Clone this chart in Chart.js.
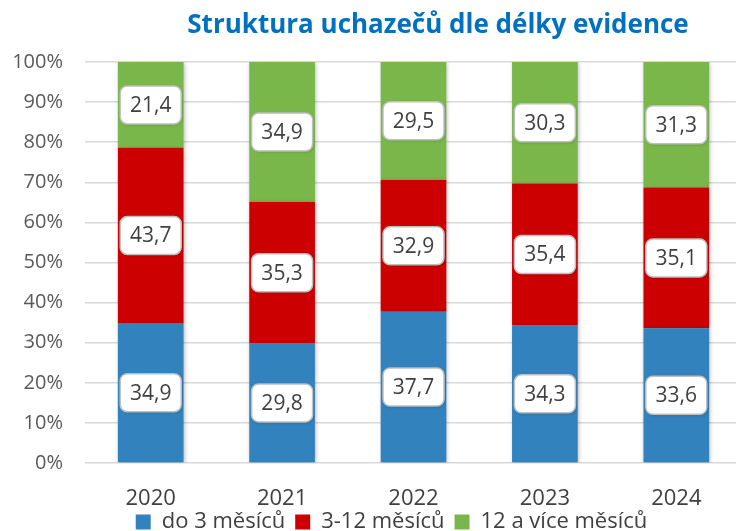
<!DOCTYPE html>
<html>
<head>
<meta charset="utf-8">
<script src="https://cdn.jsdelivr.net/npm/chart.js@4/dist/chart.umd.min.js"></script>
<style>
  body { margin: 0; overflow: hidden; background: #fff; }
  canvas { display: block; }
</style>
</head>
<body>
<canvas id="chart" width="742" height="551"></canvas>
<script>
const years = ['2020', '2021', '2022', '2023', '2024'];
const upTo3 = [34.9, 29.8, 37.7, 34.3, 33.6];
const from3to12 = [43.7, 35.3, 32.9, 35.4, 35.1];
const over12 = [21.4, 34.9, 29.5, 30.3, 31.3];
const seriesNames = ['do 3 měsíců', '3-12 měsíců', '12 a více měsíců'];
const title = 'Struktura uchazečů dle délky evidence';

const FONT = '"Open Sans", "DejaVu Sans", sans-serif';

// title drawn by hand so it sits where the original has it
const titlePlugin = {
    id: 'customTitle',
    afterDraw(chart) {
        const ctx = chart.ctx;
        ctx.save();
        ctx.font = 'bold 26px ' + FONT;
        ctx.fillStyle = '#0070c0';
        ctx.textAlign = 'center';
        ctx.textBaseline = 'middle';
        ctx.fillText(title, 438, 26);
        ctx.restore();
    }
};

// nudge the legend left and up like in the original
const legendShift = {
    id: 'legendShift',
    afterLayout(chart) {
        chart.legend.left -= 22;
        chart.legend.right -= 22;
        chart.legend.top -= 8;
        chart.legend.bottom -= 8;
    }
};

// soft shadow under the bars
const shadowPlugin = {
    id: 'barShadow',
    beforeDatasetsDraw(chart) {
        const ctx = chart.ctx;
        ctx.save();
        ctx.shadowColor = 'rgba(0,0,0,0.25)';
        ctx.shadowBlur = 4;
        ctx.shadowOffsetX = 1;
        ctx.shadowOffsetY = 1;
    },
    afterDatasetsDraw(chart) {
        chart.ctx.restore();
    }
};

// white rounded value boxes in the middle of each segment
const boxLabels = {
    id: 'boxLabels',
    afterDatasetsDraw(chart) {
        const ctx = chart.ctx;
        chart.data.datasets.forEach(function(ds, i) {
            const meta = chart.getDatasetMeta(i);
            meta.data.forEach(function(bar, j) {
                const v = ds.data[j];
                const cx = bar.x;
                const cy = (bar.y + bar.base) / 2;
                const w = 61, h = 38;
                ctx.save();
                ctx.shadowColor = 'rgba(0,0,0,0.2)';
                ctx.shadowBlur = 3;
                ctx.shadowOffsetX = 1;
                ctx.shadowOffsetY = 1;
                ctx.beginPath();
                ctx.roundRect(cx - w / 2, cy - h / 2, w, h, 7);
                ctx.fillStyle = '#ffffff';
                ctx.fill();
                ctx.shadowColor = 'transparent';
                ctx.lineWidth = 1.5;
                ctx.strokeStyle = '#bfbfbf';
                ctx.stroke();
                ctx.font = '21px ' + FONT;
                ctx.fillStyle = '#404040';
                ctx.textAlign = 'center';
                ctx.textBaseline = 'middle';
                ctx.fillText(v.toFixed(1).replace('.', ','), cx, cy + 1);
                ctx.restore();
            });
        });
    }
};

new Chart(document.getElementById('chart'), {
    type: 'bar',
    data: {
        labels: years,
        datasets: [
            { label: seriesNames[0], data: upTo3, backgroundColor: '#3282bd' },
            { label: seriesNames[1], data: from3to12, backgroundColor: '#cc0000' },
            { label: seriesNames[2], data: over12, backgroundColor: '#79b74a' }
        ]
    },
    options: {
        responsive: false,
        animation: false,
        layout: { padding: { top: 62, left: 4, right: 0, bottom: 0 } },
        datasets: {
            bar: { barPercentage: 0.5, categoryPercentage: 1.0, borderWidth: 0 }
        },
        scales: {
            x: {
                stacked: true,
                grid: { display: false },
                border: { display: false },
                ticks: { color: '#404040', font: { family: FONT, size: 22 }, padding: 15 },
                afterFit(scale) { scale.height = 46; }
            },
            y: {
                stacked: true,
                min: 0,
                max: 100,
                grid: { color: '#d9d9d9', lineWidth: 1.5, drawTicks: false },
                border: { display: false },
                ticks: {
                    stepSize: 10,
                    padding: 22,
                    color: '#595959',
                    font: { family: FONT, size: 20 },
                    callback: function(v) { return v + '%'; }
                },
                afterFit(scale) { scale.width = 81; }
            }
        },
        plugins: {
            title: { display: false },
            tooltip: { enabled: false },
            legend: {
                position: 'bottom',
                fullSize: false,
                labels: {
                    color: '#404040',
                    font: { family: FONT, size: 22 },
                    boxWidth: 15,
                    boxHeight: 15,
                    padding: 10
                }
            }
        }
    },
    plugins: [legendShift, shadowPlugin, boxLabels, titlePlugin]
});
</script>
</body>
</html>
